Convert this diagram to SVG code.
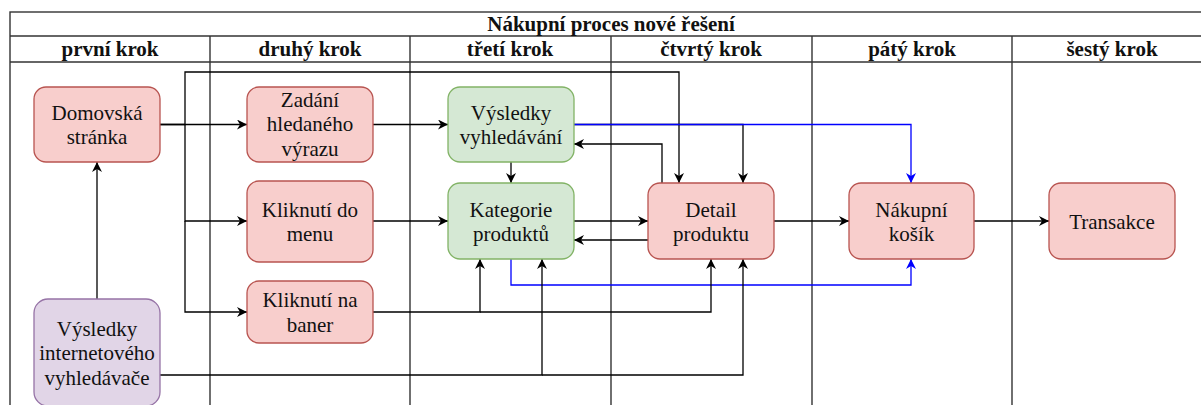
<svg xmlns="http://www.w3.org/2000/svg" width="1201" height="405" viewBox="0 0 1201 405">
<style>
.lane{fill:none;stroke:#333;stroke-width:1.4}
.hdr{font-family:"Liberation Serif","Times New Roman",serif;font-weight:bold;font-size:21px;fill:#111;text-anchor:middle}
.txt{font-family:"Liberation Serif","Times New Roman",serif;font-size:21px;fill:#111;text-anchor:middle}
.red{fill:#f8cecc;stroke:#b85450;stroke-width:1.3}
.green{fill:#d5e8d4;stroke:#82b366;stroke-width:1.3}
.purple{fill:#e1d5e7;stroke:#9673a6;stroke-width:1.3}
.c{fill:none;stroke:#000;stroke-width:1.3}
.cb{fill:none;stroke:#0000ff;stroke-width:1.3}
</style>
<defs>
<marker id="ab" markerUnits="userSpaceOnUse" markerWidth="11" markerHeight="10" refX="10" refY="5" orient="auto"><path d="M0,0 L10,5 L0,10 L3,5 z" fill="#000"/></marker>
<marker id="abl" markerUnits="userSpaceOnUse" markerWidth="11" markerHeight="10" refX="10" refY="5" orient="auto"><path d="M0,0 L10,5 L0,10 L3,5 z" fill="#0000ff"/></marker>
</defs>
<rect width="1201" height="405" fill="#fff"/>
<g id="pool">
<rect class="lane" x="10" y="12" width="1202" height="400"/>
<line class="lane" x1="10" y1="36" x2="1212" y2="36"/>
<line class="lane" x1="10" y1="62" x2="1212" y2="62"/>
<line class="lane" x1="210" y1="36" x2="210" y2="410"/>
<line class="lane" x1="410" y1="36" x2="410" y2="410"/>
<line class="lane" x1="611" y1="36" x2="611" y2="410"/>
<line class="lane" x1="812" y1="36" x2="812" y2="410"/>
<line class="lane" x1="1012" y1="36" x2="1012" y2="410"/>
<text class="hdr" x="611" y="31">Nákupní proces nové řešení</text>
<text class="hdr" x="110" y="56">první krok</text>
<text class="hdr" x="310" y="56">druhý krok</text>
<text class="hdr" x="510" y="56">třetí krok</text>
<text class="hdr" x="711" y="56">čtvrtý krok</text>
<text class="hdr" x="912" y="56">pátý krok</text>
<text class="hdr" x="1112" y="56">šestý krok</text>
</g>
<g id="connectors">
<path class="c" d="M160,124.5 L247,124.5" marker-end="url(#ab)"/>
<path class="c" d="M160,124.5 L185,124.5 L185,72 L679,72 L679,183" marker-end="url(#ab)"/>
<path class="c" d="M185,124.5 L185,221 L247,221" marker-end="url(#ab)"/>
<path class="c" d="M185,221 L185,312 L247,312" marker-end="url(#ab)"/>
<path class="c" d="M373,124.5 L448,124.5" marker-end="url(#ab)"/>
<path class="c" d="M373,221 L448,221" marker-end="url(#ab)"/>
<path class="c" d="M511,162 L511,183" marker-end="url(#ab)"/>
<path class="c" d="M574,124.5 L743,124.5 L743,183" marker-end="url(#ab)"/>
<path class="cb" d="M574,124.5 L911,124.5 L911,183" marker-end="url(#abl)"/>
<path class="c" d="M662,183 L662,144 L574,144" marker-end="url(#ab)"/>
<path class="c" d="M574,221 L648,221" marker-end="url(#ab)"/>
<path class="c" d="M648,240 L574,240" marker-end="url(#ab)"/>
<path class="cb" d="M511,259 L511,285 L911,285 L911,259" marker-end="url(#abl)"/>
<path class="c" d="M373,312 L480,312 L480,259" marker-end="url(#ab)"/>
<path class="c" d="M480,312 L711,312 L711,259" marker-end="url(#ab)"/>
<path class="c" d="M160,375 L542,375 L542,259" marker-end="url(#ab)"/>
<path class="c" d="M542,375 L743,375 L743,259" marker-end="url(#ab)"/>
<path class="c" d="M97,299 L97,162" marker-end="url(#ab)"/>
<path class="c" d="M774,221 L849,221" marker-end="url(#ab)"/>
<path class="c" d="M974,221 L1049,221" marker-end="url(#ab)"/>
</g>
<g id="domovska">
<rect class="red" x="34" y="87" width="126" height="75" rx="12"/>
<text class="txt" x="97" y="119.5">Domovská</text>
<text class="txt" x="97" y="144">stránka</text>
</g>
<g id="zadani">
<rect class="red" x="247" y="87" width="126" height="75" rx="12"/>
<text class="txt" x="310" y="106.5">Zadání</text>
<text class="txt" x="310" y="131">hledaného</text>
<text class="txt" x="310" y="155.5">výrazu</text>
</g>
<g id="kliknuti-menu">
<rect class="red" x="247" y="181" width="126" height="81" rx="12"/>
<text class="txt" x="310" y="216.5">Kliknutí do</text>
<text class="txt" x="310" y="241">menu</text>
</g>
<g id="kliknuti-baner">
<rect class="red" x="247" y="281" width="126" height="62" rx="12"/>
<text class="txt" x="310" y="307">Kliknutí na</text>
<text class="txt" x="310" y="331.5">baner</text>
</g>
<g id="vysledky-internet">
<rect class="purple" x="34" y="299" width="126" height="107" rx="14"/>
<text class="txt" x="97" y="335.5">Výsledky</text>
<text class="txt" x="97" y="360">internetového</text>
<text class="txt" x="97" y="384.5">vyhledávače</text>
</g>
<g id="vysledky-vyhledavani">
<rect class="green" x="448" y="87" width="126" height="75" rx="12"/>
<text class="txt" x="511" y="119.5">Výsledky</text>
<text class="txt" x="511" y="144">vyhledávání</text>
</g>
<g id="kategorie">
<rect class="green" x="448" y="183" width="126" height="76" rx="12"/>
<text class="txt" x="511" y="216.5">Kategorie</text>
<text class="txt" x="511" y="241">produktů</text>
</g>
<g id="detail">
<rect class="red" x="648" y="183" width="126" height="76" rx="12"/>
<text class="txt" x="711" y="216.5">Detail</text>
<text class="txt" x="711" y="241">produktu</text>
</g>
<g id="kosik">
<rect class="red" x="849" y="183" width="125" height="76" rx="12"/>
<text class="txt" x="911.5" y="216.5">Nákupní</text>
<text class="txt" x="911.5" y="241">košík</text>
</g>
<g id="transakce">
<rect class="red" x="1049" y="183" width="126" height="76" rx="12"/>
<text class="txt" x="1112" y="228.5">Transakce</text>
</g>
</svg>
